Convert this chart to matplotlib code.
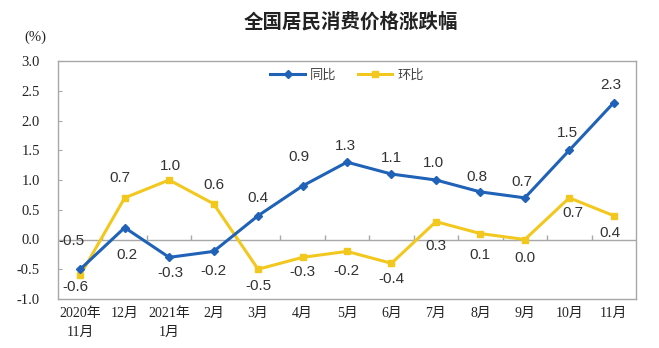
import matplotlib
matplotlib.use("Agg")
import matplotlib.pyplot as plt
import numpy as np

categories = ["2020年\n11月", "12月", "2021年\n1月", "2月", "3月", "4月", "5月",
              "6月", "7月", "8月", "9月", "10月", "11月"]
yoy = [-0.5, 0.2, -0.3, -0.2, 0.4, 0.9, 1.3, 1.1, 1.0, 0.8, 0.7, 1.5, 2.3]
mom = [-0.6, 0.7, 1.0, 0.6, -0.5, -0.3, -0.2, -0.4, 0.3, 0.1, 0.0, 0.7, 0.4]
yticks = [-1.0, -0.5, 0.0, 0.5, 1.0, 1.5, 2.0, 2.5, 3.0]

# label offsets in pixels (dx, dy), layout only
yoy_off = [(-9, 28), (2, -27), (1, -16), (0, -20), (0, 18), (-4, 29), (-2, 16),
           (0, 16), (-2, 17), (-3, 15), (-3, 16), (-2, 17), (-3, 18)]
mom_off = [(-5, -12), (-5, 20), (1, 14), (0, 19), (0, -17), (0, -15), (-1, -20),
           (0, -16), (0, -24), (0, -21), (0, -19), (4, -15), (-4, -17)]

BLUE = "#1F62B7"
YELLOW = "#F2C81F"
serif = ["Liberation Serif", "Noto Sans CJK SC"]
cjk = ["Noto Sans CJK SC", "DejaVu Sans"]

fig = plt.figure(figsize=(6.59, 3.48), dpi=100)
ax = fig.add_axes([58/659, 1-299/348, 578/659, 238/348])

x = np.arange(len(categories))
ax.axhline(0, color="#A8A8A8", lw=1.0, zorder=1)
ax.vlines(np.arange(len(categories) - 1) + 0.5, 0, 0.07, color="#A8A8A8", lw=1.0, zorder=1)

ax.plot(x, yoy, color=BLUE, lw=2.2, marker="D", ms=4.5, label="同比", zorder=3)
ax.plot(x, mom, color=YELLOW, lw=2.2, marker="s", ms=4.5, label="环比", zorder=2)

for xi, v, (dx, dy) in zip(x, yoy, yoy_off):
    ax.annotate(f"{v:.1f}", (xi, v), xytext=(dx, dy), textcoords="offset pixels",
                ha="center", va="center", fontsize=11, color="#333333",
                family="Liberation Sans")
for xi, v, (dx, dy) in zip(x, mom, mom_off):
    ax.annotate(f"{v:.1f}", (xi, v), xytext=(dx, dy), textcoords="offset pixels",
                ha="center", va="center", fontsize=11, color="#333333",
                family="Liberation Sans")

ax.set_xlim(-0.5, len(categories) - 0.5)
ax.set_ylim(-1.0, 3.0)
ax.set_yticks(yticks)
ax.set_yticklabels([f"{t:.1f}" for t in yticks], family=serif, fontsize=10.5, color="#222222")
ax.set_xticks(x)
ax.set_xticklabels(categories, family=serif, fontsize=10, color="#222222", linespacing=1.55)
ax.tick_params(axis="x", length=0, pad=6)
ax.tick_params(axis="y", direction="in", length=3, color="#A8A8A8", pad=13)
for s in ax.spines.values():
    s.set_color("#A8A8A8")
    s.set_linewidth(1.0)

leg = ax.legend(loc="center", bbox_to_anchor=(0.5, 0.94), ncol=2, frameon=False,
                prop={"family": cjk, "size": 9.5}, handlelength=2.6, columnspacing=1.6,
                handletextpad=0.4)
for t in leg.get_texts():
    t.set_color("#444444")

fig.text(351/659, 1-22/348, "全国居民消费价格涨跌幅", ha="center", va="center",
         fontsize=14, fontweight="bold", family=cjk, color="#222222")
fig.text(35/659, 1-37/348, "(%)", ha="center", va="center", fontsize=10.5,
         family=serif, color="#222222")

fig.savefig("out.png", dpi=100, facecolor="white")
